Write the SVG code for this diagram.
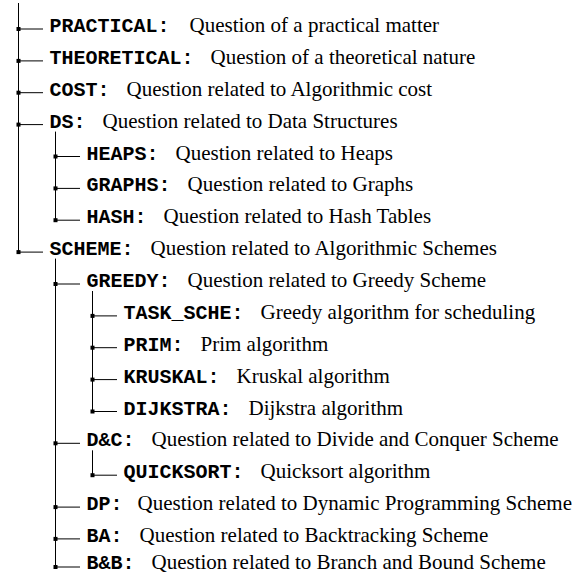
<svg xmlns="http://www.w3.org/2000/svg" width="580" height="574" viewBox="0 0 580 574">
<style>
.bg{fill:#fff}
.c line{stroke:#000;stroke-width:1}
.m{fill:#000}
.k{font-family:"Liberation Mono","Courier New",monospace;font-weight:bold;font-size:20px;fill:#000}
.d{font-family:"Liberation Serif","Times New Roman",serif;font-weight:normal;font-size:21px;fill:#000}
</style>
<rect class="bg" x="0" y="0" width="580" height="574"/>
<g id="connectors" class="c">
<line x1="18.5" y1="3" x2="18.5" y2="252.1"/>
<line x1="55.5" y1="131.6" x2="55.5" y2="220.2"/>
<line x1="55.5" y1="258.6" x2="55.5" y2="567"/>
<line x1="92.5" y1="291" x2="92.5" y2="411.5"/>
<line x1="92.5" y1="450.3" x2="92.5" y2="475.2"/>
<line x1="18.5" y1="29" x2="43" y2="29"/>
<line x1="18.5" y1="60.9" x2="43" y2="60.9"/>
<line x1="18.5" y1="92.7" x2="43" y2="92.7"/>
<line x1="18.5" y1="124.6" x2="43" y2="124.6"/>
<line x1="55.5" y1="156.5" x2="80" y2="156.5"/>
<line x1="55.5" y1="188.4" x2="80" y2="188.4"/>
<line x1="55.5" y1="220.2" x2="80" y2="220.2"/>
<line x1="18.5" y1="252.1" x2="43" y2="252.1"/>
<line x1="55.5" y1="284" x2="80" y2="284"/>
<line x1="92.5" y1="315.9" x2="117" y2="315.9"/>
<line x1="92.5" y1="347.7" x2="117" y2="347.7"/>
<line x1="92.5" y1="379.6" x2="117" y2="379.6"/>
<line x1="92.5" y1="411.5" x2="117" y2="411.5"/>
<line x1="55.5" y1="443.3" x2="80" y2="443.3"/>
<line x1="92.5" y1="475.2" x2="117" y2="475.2"/>
<line x1="55.5" y1="507.1" x2="80" y2="507.1"/>
<line x1="55.5" y1="538.9" x2="80" y2="538.9"/>
<line x1="55.5" y1="567" x2="80" y2="567"/>
</g>
<g id="n-practical"><rect class="m" x="16.5" y="27" width="4" height="4"/><text x="49.5" y="32"><tspan class="k">PRACTICAL:</tspan><tspan class="d" dx="20">Question of a practical matter</tspan></text></g>
<g id="n-theoretical"><rect class="m" x="16.5" y="58.9" width="4" height="4"/><text x="49.5" y="63.9"><tspan class="k">THEORETICAL:</tspan><tspan class="d" dx="17">Question of a theoretical nature</tspan></text></g>
<g id="n-cost"><rect class="m" x="16.5" y="90.7" width="4" height="4"/><text x="49.5" y="95.7"><tspan class="k">COST:</tspan><tspan class="d" dx="17">Question related to Algorithmic cost</tspan></text></g>
<g id="n-ds"><rect class="m" x="16.5" y="122.6" width="4" height="4"/><text x="49.5" y="127.6"><tspan class="k">DS:</tspan><tspan class="d" dx="17">Question related to Data Structures</tspan></text></g>
<g id="n-heaps"><rect class="m" x="53.5" y="154.5" width="4" height="4"/><text x="86.5" y="159.5"><tspan class="k">HEAPS:</tspan><tspan class="d" dx="17">Question related to Heaps</tspan></text></g>
<g id="n-graphs"><rect class="m" x="53.5" y="186.4" width="4" height="4"/><text x="86.5" y="191.4"><tspan class="k">GRAPHS:</tspan><tspan class="d" dx="17">Question related to Graphs</tspan></text></g>
<g id="n-hash"><rect class="m" x="53.5" y="218.2" width="4" height="4"/><text x="86.5" y="223.2"><tspan class="k">HASH:</tspan><tspan class="d" dx="17">Question related to Hash Tables</tspan></text></g>
<g id="n-scheme"><rect class="m" x="16.5" y="250.1" width="4" height="4"/><text x="49.5" y="255.1"><tspan class="k">SCHEME:</tspan><tspan class="d" dx="17">Question related to Algorithmic Schemes</tspan></text></g>
<g id="n-greedy"><rect class="m" x="53.5" y="282" width="4" height="4"/><text x="86.5" y="287"><tspan class="k">GREEDY:</tspan><tspan class="d" dx="17">Question related to Greedy Scheme</tspan></text></g>
<g id="n-task"><rect class="m" x="90.5" y="313.9" width="4" height="4"/><text x="123.5" y="318.9"><tspan class="k">TASK_SCHE:</tspan><tspan class="d" dx="17">Greedy algorithm for scheduling</tspan></text></g>
<g id="n-prim"><rect class="m" x="90.5" y="345.7" width="4" height="4"/><text x="123.5" y="350.7"><tspan class="k">PRIM:</tspan><tspan class="d" dx="17">Prim algorithm</tspan></text></g>
<g id="n-kruskal"><rect class="m" x="90.5" y="377.6" width="4" height="4"/><text x="123.5" y="382.6"><tspan class="k">KRUSKAL:</tspan><tspan class="d" dx="17">Kruskal algorithm</tspan></text></g>
<g id="n-dijkstra"><rect class="m" x="90.5" y="409.5" width="4" height="4"/><text x="123.5" y="414.5"><tspan class="k">DIJKSTRA:</tspan><tspan class="d" dx="17">Dijkstra algorithm</tspan></text></g>
<g id="n-dc"><rect class="m" x="53.5" y="441.3" width="4" height="4"/><text x="86.5" y="446.3"><tspan class="k">D&amp;C:</tspan><tspan class="d" dx="17">Question related to Divide and Conquer Scheme</tspan></text></g>
<g id="n-quicksort"><rect class="m" x="90.5" y="473.2" width="4" height="4"/><text x="123.5" y="478.2"><tspan class="k">QUICKSORT:</tspan><tspan class="d" dx="17">Quicksort algorithm</tspan></text></g>
<g id="n-dp"><rect class="m" x="53.5" y="505.1" width="4" height="4"/><text x="86.5" y="510.1"><tspan class="k">DP:</tspan><tspan class="d" dx="15">Question related to Dynamic Programming Scheme</tspan></text></g>
<g id="n-ba"><rect class="m" x="53.5" y="536.9" width="4" height="4"/><text x="86.5" y="541.9"><tspan class="k">BA:</tspan><tspan class="d" dx="17">Question related to Backtracking Scheme</tspan></text></g>
<g id="n-bb"><rect class="m" x="53.5" y="565" width="4" height="4"/><text x="86.5" y="568.5"><tspan class="k">B&amp;B:</tspan><tspan class="d" dx="17">Question related to Branch and Bound Scheme</tspan></text></g>
</svg>
